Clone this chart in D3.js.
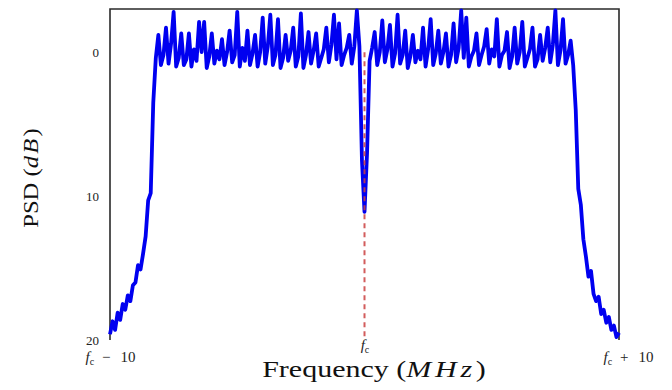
<!DOCTYPE html>
<html>
<head>
<meta charset="utf-8">
<script src="https://cdn.jsdelivr.net/npm/d3@7"></script>
<style>
  html, body { margin: 0; padding: 0; background: #fff; }
  svg { display: block; }
</style>
</head>
<body>
<figure id="psd" style="margin:0"></figure>
<script>
// frequency grid, MHz offset from the carrier f_c (0.1 MHz step)
const freqOffsets = d3.range(201).map(i => -10 + i * 0.1);

// PSD in dB, one value per grid point
const psdValues = [
  -19.6, -18.7, -19.3, -18.1, -18.6, -17.5, -17.9, -16.9, -17.3, -16.2,
  -16.0, -14.8, -15.1, -14.0, -12.8, -10.3, -9.8, -3.5, -0.4, 1.2,
  -0.9, -0.2, 1.7, -0.8, 0.6, 2.8, -1.0, -0.4, 1.3, -0.9,
  -0.5, 1.3, -1.0, 0.2, -0.6, 2.1, 0.0, 2.1, -1.1, -0.3,
  1.3, -0.8, 0.1, -0.5, 0.9, -0.9, 0.0, 1.5, -0.7, -0.2,
  2.8, -1.0, 0.3, -0.6, 1.5, -0.9, -0.1, 1.2, -1.0, 0.0,
  2.4, -0.8, 0.4, 2.6, -0.9, -0.2, 2.3, -1.1, -0.4, 1.2,
  -0.6, 0.1, 1.7, -1.0, -0.3, 2.7, -1.1, -0.2, 1.4, -0.8,
  0.1, 1.3, -1.0, -0.4, 0.2, 1.7, -0.7, 0.5, 2.6, -0.5,
  2.0, -0.9, -0.2, 0.3, 1.2, -0.8, 0.4, 2.9, 0.4, -7.5,
  -11.1, -7.0, -0.6, 0.3, 1.4, -0.9, 0.0, 2.2, -0.7, 0.2,
  1.9, -1.0, -0.1, 2.6, -0.8, -0.2, 1.5, -1.1, -0.3, 1.2,
  -0.7, 0.1, -0.5, 1.7, -1.0, 0.2, 2.3, -0.9, -0.1, 1.5,
  -0.8, 0.0, 1.3, -1.0, -0.2, 2.0, -0.7, 0.3, 2.9, -0.4,
  2.4, -1.0, -0.3, 0.1, 1.3, -0.9, -0.2, 0.4, 1.6, -0.8,
  0.2, -0.3, 2.3, -1.0, -0.2, 0.1, 1.4, -1.1, -0.3, 1.7,
  -0.8, 0.0, 2.1, -1.0, -0.4, 0.2, 1.7, -1.0, -0.5, 1.2,
  -0.6, 0.3, 1.7, -0.7, 0.5, 2.9, -0.9, 0.1, 2.3, -0.8,
  -0.2, 0.8, -0.9, -4.0, -9.5, -10.6, -13.0, -14.2, -15.6, -15.2,
  -16.8, -17.3, -17.0, -18.2, -17.9, -18.8, -18.4, -19.3, -19.0, -19.8,
  -19.5
];

const yTickValues = [0, -10, -20];
const yTickLabels = ["0", "10", "20"];
const xTickValues = [-10, 0, 10];
const xTickSign = ["\u2212", "", "+"];
const xTickNumber = ["10", "", "10"];
const carrierOffset = 0;

const width = 672;
const height = 390;
const margin = {top: 9, right: 53, bottom: 50, left: 110};

const svg = d3.select("figure#psd")
  .append("svg")
  .attr("width", width)
  .attr("height", height)
  .style("font-family", "'Liberation Serif', 'DejaVu Serif', serif");

const x = d3.scaleLinear()
  .domain([-10, 10])
  .range([margin.left, width - margin.right]);
const y = d3.scaleLinear()
  .domain([-20, 3])
  .range([height - margin.bottom, margin.top]);

// frame: left, top, right (no bottom line)
svg.append("path")
  .attr("d", `M${x(-10)},${y(-20)}V${y(3)}H${x(10)}V${y(-20)}`)
  .attr("fill", "none")
  .attr("stroke", "#2a2a2a")
  .attr("stroke-width", 1.6);

// y axis
const yAxis = svg.append("g")
  .attr("transform", `translate(${margin.left},0)`)
  .call(d3.axisLeft(y).tickValues(yTickValues).tickSize(0).tickPadding(11)
    .tickFormat((d, i) => yTickLabels[i]));
yAxis.select(".domain").remove();
yAxis.selectAll(".tick text")
  .attr("font-family", "'Liberation Serif', serif")
  .attr("font-size", 13)
  .attr("fill", "#222");

// x axis with f_c labels
const xAxis = svg.append("g")
  .attr("transform", `translate(0,${y(-20)})`)
  .call(d3.axisBottom(x).tickValues(xTickValues).tickSize(0).tickFormat(""));
xAxis.select(".domain").remove();
xAxis.selectAll(".tick text").each(function(d, i) {
  const t = d3.select(this)
    .attr("font-family", "'Liberation Serif', serif")
    .attr("font-size", 15)
    .attr("fill", "#222")
    .attr("y", i === 1 ? 10 : 22)
    .attr("dy", 0)
    .attr("dx", i === 2 ? 9 : 0);
  t.append("tspan").attr("font-style", "italic").text("f");
  t.append("tspan").attr("font-size", 10).attr("dy", 3).text("c");
  if (xTickSign[i]) {
    t.append("tspan").attr("dy", -3).attr("dx", 8).text(xTickSign[i]);
    t.append("tspan").attr("dx", 10).text(xTickNumber[i]);
  }
});

// PSD trace
const points = freqOffsets.map((f, i) => ({f: f, v: psdValues[i]}));
const line = d3.line()
  .x(d => x(d.f))
  .y(d => y(d.v));
svg.append("path")
  .datum(points)
  .attr("d", line)
  .attr("fill", "none")
  .attr("stroke", "#0000f0")
  .attr("stroke-width", 3.8)
  .attr("stroke-linejoin", "round");

// carrier marker
svg.append("line")
  .attr("x1", x(carrierOffset))
  .attr("x2", x(carrierOffset))
  .attr("y1", y(0))
  .attr("y2", y(-20))
  .attr("stroke", "#cc4040")
  .attr("stroke-width", 2)
  .attr("stroke-dasharray", "5,4")
  .attr("opacity", 0.85);

// axis titles
const xTitle = svg.append("text")
  .attr("transform", "translate(374,377) scale(1.25,1)")
  .attr("text-anchor", "middle")
  .attr("font-size", 24)
  .attr("fill", "#111");
xTitle.append("tspan").text("Frequency (");
xTitle.append("tspan").attr("font-style", "italic").attr("letter-spacing", 3).text("MHz");
xTitle.append("tspan").text(")");

const yTitle = svg.append("text")
  .attr("transform", "translate(38,178) rotate(-90) scale(1.12,1)")
  .attr("text-anchor", "middle")
  .attr("font-size", 22)
  .attr("fill", "#111");
yTitle.append("tspan").text("PSD (");
yTitle.append("tspan").attr("font-style", "italic").attr("letter-spacing", 2).text("dB");
yTitle.append("tspan").text(")");
</script>
</body>
</html>
